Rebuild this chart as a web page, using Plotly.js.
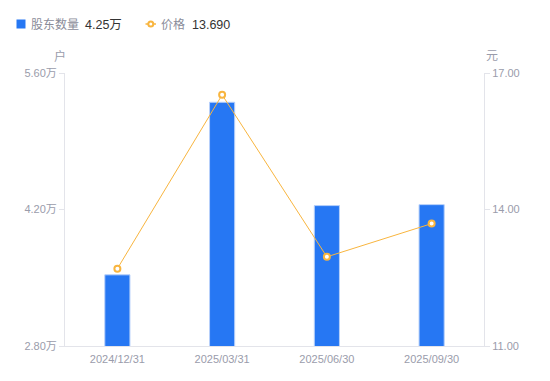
<!DOCTYPE html>
<html><head><meta charset="utf-8">
<script src="https://cdn.plot.ly/plotly-3.0.1.min.js"></script>
<style>html,body{margin:0;padding:0;background:#fff}#c{width:550px;height:381px}</style>
</head><body><div id="c"></div>
<script>
const categories = ["2024/12/31", "2025/03/31", "2025/06/30", "2025/09/30"];
const holders = [3.53, 5.30, 4.24, 4.25]; // 万户
const prices = [12.70, 16.52, 12.96, 13.69]; // 元
const leftTicks = [2.8, 4.2, 5.6];
const rightTicks = [11, 14, 17];

const FONT = "Liberation Sans, Arial, Noto Sans CJK SC, sans-serif";
const GRAY = "#9a9cab";
const AXIS = "#e3e4ea";
const BLUE = "#2677f3";
const ORANGE = "#f8b53f";

const data = [
  {type: "bar", x: categories, y: holders, marker: {color: BLUE, line: {color: "#b7d0fa", width: 1}},
   width: 0.24, yaxis: "y", hoverinfo: "none"},
  {type: "scatter", mode: "lines+markers", x: categories, y: prices, yaxis: "y2",
   line: {color: ORANGE, width: 1},
   marker: {symbol: "circle", size: 6, color: "#fff", line: {color: ORANGE, width: 2}}, hoverinfo: "none"}
];

const W = 550 - 65 - 66, H = 381 - 73 - 35;
const px = x => (x - 65) / W;
const py = y => (381 - 35 - y) / H;

const layout = {
  width: 550, height: 381,
  margin: {l: 65, r: 66, t: 73, b: 35},
  paper_bgcolor: "#fff", plot_bgcolor: "#fff",
  showlegend: false,
  font: {family: FONT, color: GRAY, size: 11},
  xaxis: {type: "category", showline: true, linecolor: AXIS, linewidth: 1, ticks: "outside", ticklen: 3,
          tickcolor: "rgba(0,0,0,0)", showgrid: false,
          tickfont: {size: 11, color: GRAY}, zeroline: false},
  yaxis: {range: [2.8, 5.6], tickvals: leftTicks, ticktext: leftTicks.map(v => v.toFixed(2) + "万"),
          showline: true, linecolor: AXIS, ticks: "outside", ticklen: 5, tickcolor: AXIS,
          showgrid: false, zeroline: false, tickfont: {size: 11, color: GRAY}},
  yaxis2: {range: [11, 17], overlaying: "y", side: "right", tickvals: rightTicks,
           ticktext: rightTicks.map(v => v.toFixed(2)),
           showline: true, linecolor: AXIS, ticks: "outside", ticklen: 5, tickcolor: AXIS,
           showgrid: false, zeroline: false, tickfont: {size: 11, color: GRAY}},
  shapes: [
    {type: "rect", xref: "paper", yref: "paper", x0: px(16.5), x1: px(25.5), y0: py(28.5), y1: py(19.5),
     fillcolor: BLUE, line: {width: 0}},
    {type: "line", xref: "paper", yref: "paper", x0: px(145.5), x1: px(156), y0: py(24), y1: py(24),
     line: {color: ORANGE, width: 1.5}},
    {type: "circle", xref: "paper", yref: "paper", x0: px(148.3), x1: px(153.3), y0: py(26.5), y1: py(21.5),
     fillcolor: "#fff", line: {color: ORANGE, width: 2}}
  ],
  annotations: [
    {xref: "paper", yref: "paper", x: px(52), y: py(56), xanchor: "left", yanchor: "middle", showarrow: false,
     text: "户", font: {size: 12, color: GRAY}},
    {xref: "paper", yref: "paper", x: px(484), y: py(56), xanchor: "left", yanchor: "middle", showarrow: false,
     text: "元", font: {size: 12, color: GRAY}},
    {xref: "paper", yref: "paper", x: px(29), y: py(25), xanchor: "left", yanchor: "middle", showarrow: false,
     text: "股东数量", font: {size: 12, color: "#8a8c99"}},
    {xref: "paper", yref: "paper", x: px(83), y: py(25), xanchor: "left", yanchor: "middle", showarrow: false,
     text: holders[holders.length - 1].toFixed(2) + "万", font: {size: 12.5, color: "#333"}},
    {xref: "paper", yref: "paper", x: px(159), y: py(25), xanchor: "left", yanchor: "middle", showarrow: false,
     text: "价格", font: {size: 12, color: "#8a8c99"}},
    {xref: "paper", yref: "paper", x: px(190), y: py(25), xanchor: "left", yanchor: "middle", showarrow: false,
     text: prices[prices.length - 1].toFixed(3), font: {size: 12.5, color: "#333"}}
  ]
};

Plotly.newPlot("c", data, layout, {displayModeBar: false, staticPlot: true});
</script></body></html>
